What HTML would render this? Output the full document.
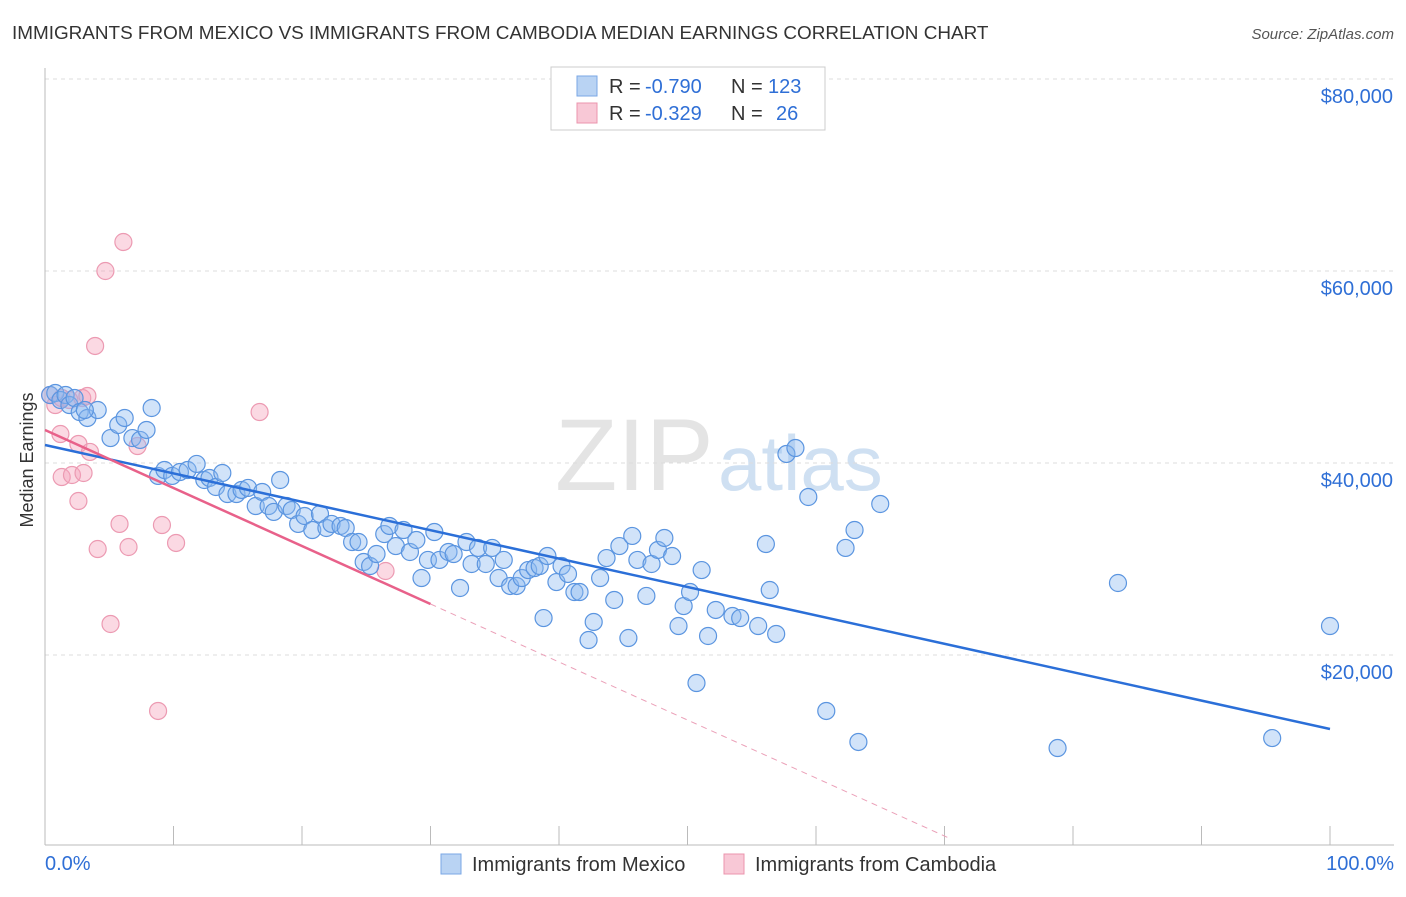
<!DOCTYPE html>
<html><head><meta charset="utf-8"><style>
body{margin:0;background:#fff;font-family:"Liberation Sans",sans-serif;}
svg text{font-family:"Liberation Sans",sans-serif;}
</style></head><body>
<svg id="chart" width="1406" height="892">
<text x="12" y="39" font-size="18.9" fill="#333">IMMIGRANTS FROM MEXICO VS IMMIGRANTS FROM CAMBODIA MEDIAN EARNINGS CORRELATION CHART</text>
<text x="1394" y="39" font-size="15" fill="#555" text-anchor="end" font-style="italic">Source: ZipAtlas.com</text>
<text x="33" y="460" font-size="18" fill="#333" text-anchor="middle" transform="rotate(-90 33 460)">Median Earnings</text>
<text x="555" y="490" font-size="102" fill="#e4e4e4" font-family="Liberation Serif">ZIP</text>
<text x="718" y="490" font-size="78" fill="#cfe0f2">atlas</text>
<g id="grid"></g><g id="marks"></g>
<g>
<rect x="551" y="67" width="274" height="63" fill="#fff" stroke="#ccc"/>
<rect x="577" y="76" width="20" height="20" fill="#b9d3f3" stroke="#7aa7e6"/>
<rect x="577" y="103" width="20" height="20" fill="#f8c8d6" stroke="#eb94ad"/>
<text x="609" y="93" font-size="20" fill="#333">R =</text>
<text x="645" y="93" font-size="20" fill="#2f6fd6">-0.790</text>
<text x="731" y="93" font-size="20" fill="#333">N =</text>
<text x="768" y="93" font-size="20" fill="#2f6fd6">123</text>
<text x="609" y="120" font-size="20" fill="#333">R =</text>
<text x="645" y="120" font-size="20" fill="#2f6fd6">-0.329</text>
<text x="731" y="120" font-size="20" fill="#333">N =</text>
<text x="776" y="120" font-size="20" fill="#2f6fd6">26</text>
</g>
<g>
<rect x="441" y="854" width="20" height="20" fill="#b9d3f3" stroke="#7aa7e6"/>
<text x="472" y="871" font-size="20" fill="#333">Immigrants from Mexico</text>
<rect x="724" y="854" width="20" height="20" fill="#f8c8d6" stroke="#eb94ad"/>
<text x="755" y="871" font-size="20" fill="#333">Immigrants from Cambodia</text>
</g>
<text x="45" y="870" font-size="20" fill="#2f6fd6">0.0%</text>
<text x="1394" y="870" font-size="20" fill="#2f6fd6" text-anchor="end">100.0%</text>
</svg>
<script>
const yTicks=[20000,40000,60000,80000];
const yTickLabels=["$20,000","$40,000","$60,000","$80,000"];
const xTicks=[0,10,20,30,40,50,60,70,80,90,100];
const mexicoX=[0.4,0.8,1.2,1.6,1.9,2.3,2.7,3.3,4.1,3.1,5.1,5.7,6.2,6.8,7.4,7.9,8.3,8.8,9.3,9.9,10.5,11.1,11.8,12.4,12.8,13.3,13.8,14.2,14.9,15.3,15.8,16.4,16.9,17.4,17.8,18.3,18.8,19.2,19.7,20.2,20.8,21.4,21.9,22.3,23.0,23.4,23.9,24.4,24.8,25.3,25.8,26.4,26.8,27.3,27.9,28.4,28.9,29.3,29.8,30.3,30.7,31.4,31.8,32.3,32.8,33.2,33.7,34.3,34.8,35.3,35.7,36.2,36.7,37.1,37.6,38.1,38.5,38.8,39.1,39.8,40.2,40.7,41.2,41.6,42.3,42.7,43.2,43.7,44.3,44.7,45.4,45.7,46.1,46.8,47.2,47.7,48.2,48.8,49.3,49.7,50.2,50.7,51.1,51.6,52.2,53.5,54.1,55.5,56.1,56.4,56.9,57.7,58.4,59.4,60.8,62.3,63.0,63.3,65.0,78.8,83.5,95.5,100];
const mexicoY=[47080,47290,46560,47080,46040,46770,45310,44690,45520,45520,42600,43960,44690,42600,42400,43440,45730,38650,39270,38650,39060,39270,39900,38230,38440,37500,38960,36770,36770,37190,37400,35520,36980,35520,34900,38230,35520,35100,33650,34480,33020,34690,33230,33650,33440,33230,31770,31770,29690,29270,30520,32600,33440,31350,33020,30730,31980,28020,29900,32810,29900,30730,30520,26980,31770,29480,31150,29480,31150,28020,29900,27190,27190,28020,28850,29060,29270,23850,30310,27600,29270,28440,26560,26560,21560,23440,28020,30100,25730,31350,21770,32400,29900,26150,29480,30940,32190,30310,23020,25100,26560,17080,28850,21980,24690,24060,23850,23020,31560,26770,22190,40940,41560,36460,14170,31150,33020,10940,35730,10310,27500,11350,23020];
const cambodiaX=[0.4,0.8,1.2,1.3,1.9,2.6,2.9,3.3,3.5,4.1,4.7,5.1,5.8,6.1,6.5,3.9,2.6,1.3,2.1,3.0,7.2,8.8,9.1,10.2,16.7,26.5];
const cambodiaY=[47080,46040,43020,46770,46560,41980,46770,46980,41150,31040,60000,23230,33650,63020,31250,52190,36040,38540,38750,38960,41770,14170,33540,31670,45310,28750];
const mexicoLine=[41875,12292];
const cambodiaLine=[43438,-16982];
const X=v=>45+v*12.85, Y=v=>847-v*192/20000;
const NS="http://www.w3.org/2000/svg";
const grid=document.getElementById('grid'), marks=document.getElementById('marks');
function mk(tag,attrs,parent){const e=document.createElementNS(NS,tag);for(const k in attrs)e.setAttribute(k,attrs[k]);parent.appendChild(e);return e;}
yTicks.forEach((t,i)=>{
 const l=mk('line',{x1:45,x2:1394,y1:Y(t),y2:Y(t),stroke:'#ddd','stroke-dasharray':'4,4'},grid);
 
 
 const tx=mk('text',{x:1393,y:Y(t)+24,'font-size':20,fill:'#2f6fd6','text-anchor':'end'},grid);
 tx.textContent=yTickLabels[i];
 
 
});
const ax=mk('line',{x1:45,x2:45,y1:68,y2:845,stroke:'#bbb'},grid);


const bx=mk('line',{x1:45,x2:1394,y1:845,y2:845,stroke:'#bbb'},grid);


xTicks.forEach(t=>{
 const l=mk('line',{x1:X(t),x2:X(t),y1:826,y2:845,stroke:'#bbb'},grid);
 
 
});
function dots(xs,ys,fill,stroke,name){
 xs.forEach((x,i)=>{
  const c=mk('circle',{cx:X(x),cy:Y(ys[i]),r:8.5,fill:fill,stroke:stroke,'stroke-width':1.2},marks);
  
  
 });
}
dots(cambodiaX,cambodiaY,'rgba(245,160,185,0.4)','#ec9ab2','cambodia-point');
dots(mexicoX,mexicoY,'rgba(140,185,240,0.4)','#5b95e0','mexico-point');
const lm=(l,x)=>l[0]+(l[1]-l[0])*x/100;
const l1=mk('line',{x1:X(0),y1:Y(lm(mexicoLine,0)),x2:X(100),y2:Y(lm(mexicoLine,100)),stroke:'#2b6fd8','stroke-width':2.5},marks);


const l2=mk('line',{x1:X(0),y1:Y(lm(cambodiaLine,0)),x2:X(30),y2:Y(lm(cambodiaLine,30)),stroke:'#e8618a','stroke-width':2.5},marks);


const l3=mk('line',{x1:X(30),y1:Y(lm(cambodiaLine,30)),x2:X(70.5),y2:Y(lm(cambodiaLine,70.5)),stroke:'#eba0b8','stroke-width':1,'stroke-dasharray':'6,5'},marks);


</script>
</body></html>
